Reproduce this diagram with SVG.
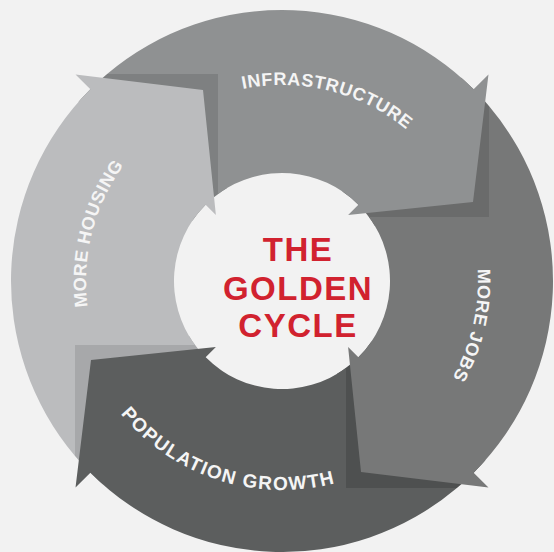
<svg xmlns="http://www.w3.org/2000/svg" xmlns:xlink="http://www.w3.org/1999/xlink" width="554" height="552" viewBox="0 0 554 552">
  <style>
    .lbl { font-family: "Liberation Sans", Arial, sans-serif; font-weight: bold; fill: #f5f5f5; font-size: 18px; letter-spacing: 0.6px; }
    .pop { font-size: 19px; letter-spacing: 1.4px; }
    .ctr { font-family: "Liberation Sans", Arial, sans-serif; font-weight: bold; fill: #d1222f; font-size: 33px; letter-spacing: 1.5px; text-anchor: middle; }
  </style>
  <defs>
    <path id="arrow" d="M107.1,74 A271,271 0 0 1 473.63,89.37 L488.48,74.52 L473,202 L348.11,214.89 L358.37,204.63 A108,108 0 0 0 218,194 L218,74 Z"/>
    <polygon id="shadow" points="218,74 60,74 150,210 230,230"/>
    <clipPath id="ring">
      <path clip-rule="evenodd" d="M282,10 A271,271 0 1 1 282,552 A271,271 0 1 1 282,10 Z M282,173 A108,108 0 1 0 282,389 A108,108 0 1 0 282,173 Z"/>
    </clipPath>
    <path id="tp-infra" d="M141,144.85 A196,196 0 0 1 470.41,226.97"/>
    <path id="tp-jobs" d="M415.88,137.85 A196,196 0 0 1 338.98,468.53"/>
    <path id="tp-pop" d="M77.72,325.17 A209,209 0 0 0 422.39,435.83"/>
    <path id="tp-housing" d="M144.87,421.04 A196,196 0 0 1 229.29,92.22"/>
  </defs>
  <rect width="554" height="552" fill="#f2f2f2"/>
  <g id="connectors">
    <g id="shadows" clip-path="url(#ring)">
      <use xlink:href="#shadow" fill="#7e8081"/>
      <use xlink:href="#shadow" fill="#6a6b6b" transform="rotate(90 282 281)"/>
      <use xlink:href="#shadow" fill="#4e5050" transform="rotate(180 282 281)"/>
      <use xlink:href="#shadow" fill="#a7a8aa" transform="rotate(270 282 281)"/>
    </g>
  </g>
  <g id="infrastructure">
    <use xlink:href="#arrow" fill="#8f9192"/>
    <text class="lbl"><textPath xlink:href="#tp-infra" startOffset="50%" text-anchor="middle">INFRASTRUCTURE</textPath></text>
  </g>
  <g id="more-jobs">
    <use xlink:href="#arrow" fill="#777878" transform="rotate(90 282 281)"/>
    <text class="lbl"><textPath xlink:href="#tp-jobs" startOffset="50%" text-anchor="middle">MORE JOBS</textPath></text>
  </g>
  <g id="population-growth">
    <use xlink:href="#arrow" fill="#5c5e5e" transform="rotate(180 282 281)"/>
    <text class="lbl pop"><textPath xlink:href="#tp-pop" startOffset="50%" text-anchor="middle">POPULATION GROWTH</textPath></text>
  </g>
  <g id="more-housing">
    <use xlink:href="#arrow" fill="#bbbcbe" transform="rotate(270 282 281)"/>
    <text class="lbl"><textPath xlink:href="#tp-housing" startOffset="50%" text-anchor="middle">MORE HOUSING</textPath></text>
  </g>
  <g id="center">
    <text class="ctr" x="298" y="261">THE</text>
    <text class="ctr" x="298" y="300">GOLDEN</text>
    <text class="ctr" x="298" y="337">CYCLE</text>
  </g>
</svg>
